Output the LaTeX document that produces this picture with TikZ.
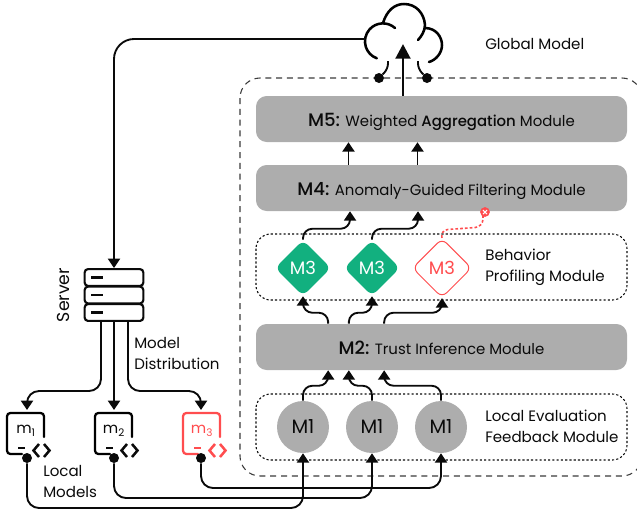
\documentclass[tikz,border=0pt]{standalone}
\usepackage{fontspec}
\setmainfont{Poppins}
\newfontfamily\med{Poppins Medium}
\usetikzlibrary{arrows.meta,shapes.geometric}
\definecolor{boxgray}{HTML}{ADADAD}
\definecolor{mgreen}{HTML}{12B07F}
\definecolor{mred}{HTML}{FF4D4F}
\definecolor{ink}{HTML}{0A0A0A}
\tikzset{
  every node/.style={text=ink,font=\fontsize{11.2pt}{13pt}\selectfont,inner sep=0pt},
  modbox/.style={fill=boxgray,rounded corners=8pt,minimum width=278.25pt,minimum height=34.5pt,align=center,text height=11.5pt,text depth=0pt},
  groupbox/.style={draw=ink,line width=0.8pt,dash pattern=on 1.6pt off 1.6pt,rounded corners=11pt},
  outerbox/.style={draw=ink!80,line width=0.8pt,dash pattern=on 4.5pt off 3.6pt,rounded corners=15pt},
  conn/.style={draw=ink,line width=1.4pt,-{Triangle[length=7pt,width=9pt]}},
  line/.style={draw=ink,line width=1.4pt},
  curved/.style={conn,rounded corners=7pt},
  mone/.style={circle,fill=boxgray,minimum size=39pt,font=\fontsize{14.5pt}{15pt}\selectfont},
  mthree/.style={diamond,fill=mgreen,rounded corners=5pt,minimum size=42pt,text=white,font=\fontsize{13.5pt}{15pt}\selectfont},
  mbad/.style={diamond,draw=mred,fill=white,line width=0.75pt,rounded corners=5pt,minimum size=44.5pt,text=mred,font=\fontsize{13.5pt}{15pt}\selectfont},
  lab/.style={anchor=west,align=left,font=\fontsize{11.3pt}{15.8pt}\selectfont},
  dot/.style={circle,fill=ink,minimum size=7.5pt},
  icon/.style={line width=1.7pt,line cap=round,rounded corners=2.5pt},
  srow/.style={draw=ink,line width=1.6pt,rounded corners=2.5pt,minimum width=44pt,minimum height=12.6pt},
  cloudline/.style={line width=1.9pt,line cap=round},
}
\begin{document}
\begin{tikzpicture}[x=0.75pt,y=-0.75pt]
\useasboundingbox (0,0) rectangle (637,512);
% outer and group frames
\draw[outerbox] (240,78) rectangle (642,476);
\draw[groupbox] (256,234) rectangle (627,300);
\draw[groupbox] (256,394) rectangle (627,460);
% modules
\node[modbox] (m5) at (441.5,119) {{\med\fontsize{13.6pt}{14pt}\selectfont M5:} Weighted {\med Aggregation} Module};
\node[modbox] (m4) at (441.5,188) {{\med\fontsize{13.6pt}{14pt}\selectfont M4:} Anomaly-Guided Filtering Module};
\node[modbox] (m2) at (441.5,347) {{\med\fontsize{13.6pt}{14pt}\selectfont M2:} Trust Inference Module};
% M3
\node[mthree] (a3) at (303,268) {M3};
\node[mthree] (b3) at (372,268) {M3};
\node[mbad] (c3) at (442,268) {M3};
% M1
\node[mone] (a1) at (303,427) {M1};
\node[mone] (b1) at (372,427) {M1};
\node[mone] (c1) at (441,427) {M1};
% labels
\node[lab] (tglobal) at (485,44) {Global Model};
\node[lab] (tbeh) at (485,267.5) {Behavior\\Profiling Module};
\node[lab] (tloc) at (485,426.5) {Local Evaluation\\Feedback Module};
\node[lab] (tdist) at (134,353.5) {Model\\Distribution};
\node[lab] (tlm) at (43,481.5) {Local\\Models};
\node[rotate=90,font=\fontsize{13pt}{15pt}\selectfont] (tserver) at (63,295) {Server};
% cloud
\draw[cloudline] (395,28) arc[start angle=-48,end angle=-250,radius=18];
\draw[cloudline] (383,23) .. controls (387,10) and (395,4) .. (404,4) .. controls (416,4) and (424,13) .. (425,25) .. controls (425,31) and (421,37) .. (418,40);
\draw[cloudline] (425,28) .. controls (436,28) and (442,37) .. (442,45) .. controls (442,53) and (436,60) .. (429,62);
\coordinate (cloudw) at (365,39);
\coordinate (cloudin) at (403,44);
\node[dot] (pl) at (379,78) {};
\node[dot] (pr) at (427,78) {};
\draw[line,rounded corners=4pt] (388,61) -- (388,69) -- (pl);
\draw[line,rounded corners=4pt] (418,61) -- (418,69) -- (pr);
% server
\node[srow] (s1) at (114,277.5) {};
\node[srow] (s2) at (114,295) {};
\node[srow] (s3) at (114,312.5) {};
\foreach \yy in {277.5,295,312.5} \draw[line,line width=1.6pt] (91,\yy) -- (103,\yy);
% model icons
\draw[icon] (44,437) -- (44,413) -- (7,413) -- (7,454) -- (22,454);
\draw[icon] (132,437) -- (132,413) -- (95,413) -- (95,454) -- (110,454);
\draw[icon,draw=mred] (220,437) -- (220,413) -- (183,413) -- (183,454) -- (198,454);
\node (tm1) at (26,431) {m\textsubscript{1}};
\node (tm2) at (114,431) {m\textsubscript{2}};
\node[text=mred] (tm3) at (202,431) {m\textsubscript{3}};
\foreach \xx in {0,88} {
  \draw[line,line width=1.9pt] (18+\xx,448) -- (25+\xx,448);
  \draw[line,line width=1.9pt] (39+\xx,444) -- (33.5+\xx,450.5) -- (39+\xx,457);
  \draw[line,line width=1.9pt] (44+\xx,444) -- (49.5+\xx,450.5) -- (44+\xx,457);
}
\draw[line,draw=mred,line width=1.9pt] (194,448) -- (201,448);
\draw[line,draw=mred,line width=1.9pt] (215,444) -- (209.5,450.5) -- (215,457);
\draw[line,draw=mred,line width=1.9pt] (220,444) -- (225.5,450.5) -- (220,457);
\node[dot] (d1) at (27,458) {};
\node[dot] (d2) at (114,458) {};
\node[dot] (d3) at (201,458) {};
\coordinate (t1) at (27,410);
\coordinate (t2) at (114,410);
\coordinate (t3) at (201,410);
% connectors
\draw[conn,line width=2.2pt,-{Triangle[length=11pt,width=11pt]}] (m5.north -| cloudin) -- (cloudin);
\draw[conn] ([xshift=-69.75pt]m4.north) -- ([xshift=-69.75pt]m5.south);
\draw[conn] ([xshift=-18pt]m4.north) -- ([xshift=-18pt]m5.south);
\draw[curved] (a3.north) -- ++(0,-11) -| ([xshift=-68.6pt]m4.south);
\draw[curved] (b3.north) -- ++(0,-11) -| ([xshift=-17.6pt]m4.south);
\draw[draw=mred,line width=1.2pt,dash pattern=on 2pt off 1.6pt,rounded corners=6pt] (c3.north) -- (440,230) -- (483,227) -- (483,214);
\draw[fill=mred,draw=mred] (485,212) circle[radius=3.4pt];
\draw[white,line width=0.8pt] (483,210) -- (487,214) (487,210) -- (483,214);
\draw[curved] ([xshift=-85pt]m2.north) -- ++(0,-11) -| (a3.south);
\draw[curved] ([xshift=-69.5pt]m2.north) -- ++(0,-11) -| (b3.south);
\draw[curved] ([xshift=-43pt]m2.north) -- ++(0,-11) -| (c3.south);
\draw[curved] (a1.north) -- ++(0,-15) -| ([xshift=-85pt]m2.south);
\draw[curved] (b1.north) -- ++(0,-15) -| ([xshift=-69.5pt]m2.south);
\draw[curved] (c1.north) -- ++(0,-15) -| ([xshift=-43pt]m2.south);
\draw[conn,rounded corners=15pt] (cloudw) -| (s1.north);
\draw[conn,rounded corners=9pt] ([xshift=-9.75pt]s3.south) |- (27,391) -- (t1);
\draw[conn] (s3.south) -- (t2);
\draw[conn,rounded corners=9pt] ([xshift=10.5pt]s3.south) |- (201,391) -- (t3);
\draw[conn,rounded corners=9pt] (d3) |- (c1.south |- 0,488) -- (c1.south);
\draw[conn,rounded corners=9pt] (d2) |- (b1.south |- 0,498) -- (b1.south);
\draw[conn,rounded corners=9pt] (d1) |- (a1.south |- 0,508) -- (a1.south);
\end{tikzpicture}
\end{document}
